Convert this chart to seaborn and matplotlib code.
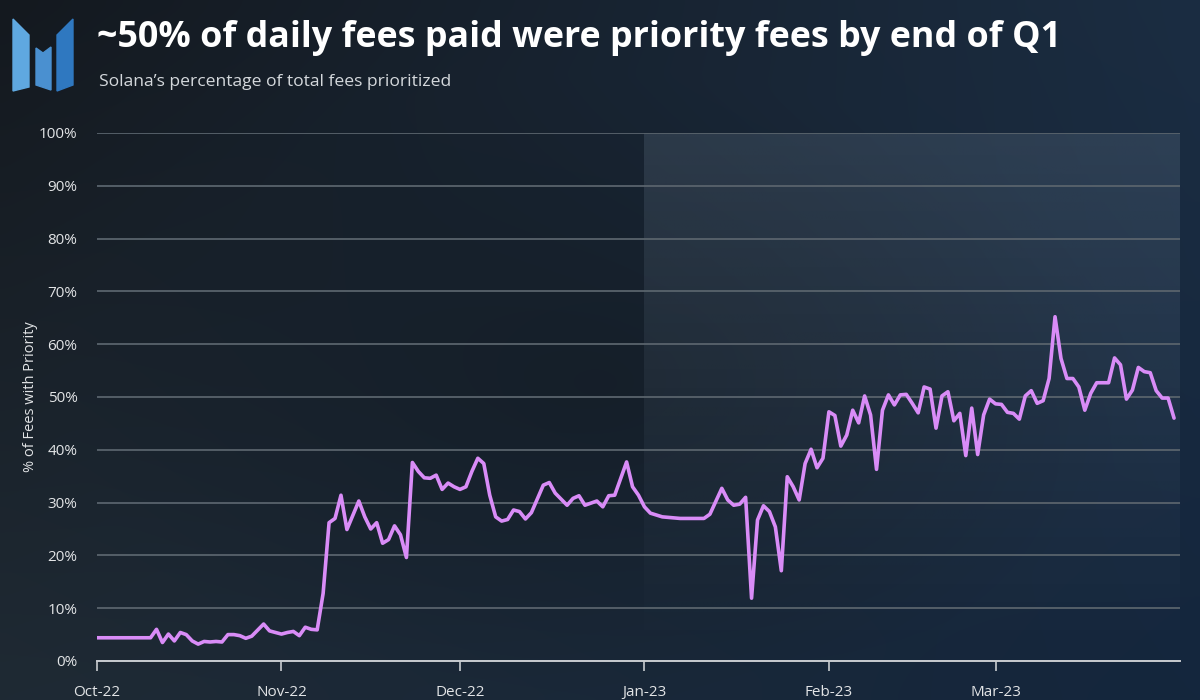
import datetime as dt

import matplotlib.dates as mdates
import matplotlib.pyplot as plt
import numpy as np
import pandas as pd
import seaborn as sns
from matplotlib.patches import Polygon

# daily share of fees paid with priority (days since 2022-10-01)
start_date = "2022-10-01"
day_offset = [
    0, 9, 10, 11, 12, 13, 14, 15, 16, 17, 18, 19, 20, 21, 22, 23, 24, 25, 26, 28, 29,
    31, 32, 33, 34, 35, 36, 37, 38, 39, 40, 41, 42, 44, 45, 46, 47, 48, 49, 50, 51, 52,
    53, 54, 55, 56, 57, 58, 59, 60, 61, 62, 63, 64, 65, 66, 67, 68, 69, 70, 71, 72, 73,
    75, 76, 77, 79, 80, 81, 82, 84, 85, 86, 87, 89, 90, 91, 92, 93, 95, 98, 102, 103,
    105, 106, 107, 108, 109, 110, 111, 112, 113, 114, 115, 116, 117, 118, 119, 120,
    121, 122, 123, 124, 125, 126, 127, 128, 129, 130, 131, 132, 133, 134, 135, 136,
    137, 138, 139, 140, 141, 142, 143, 144, 145, 146, 147, 148, 149, 150, 151, 152,
    153, 154, 155, 156, 157, 158, 159, 160, 161, 162, 163, 164, 165, 166, 167, 168,
    170, 171, 172, 173, 174, 175, 176, 177, 178, 179, 180, 181,
]
pct_priority = [
    4.4, 4.4, 6.0, 3.5, 5.1, 3.8, 5.4, 5.0, 3.8, 3.2, 3.7, 3.6, 3.7, 3.6, 5.0, 5.0, 4.8, 4.3, 4.7, 7.0, 5.7,
    5.1, 5.4, 5.6, 4.8, 6.4, 6.0, 5.9, 12.8, 26.2, 27.0, 31.4, 24.9, 30.3, 27.3, 25.0, 26.2, 22.3, 23.0, 25.6, 23.9, 19.6,
    37.6, 35.9, 34.7, 34.6, 35.2, 32.5, 33.7, 33.0, 32.5, 33.0, 35.9, 38.4, 37.4, 31.4, 27.3, 26.5, 26.8, 28.6, 28.3, 26.9, 28.1,
    33.3, 33.8, 31.8, 29.5, 30.8, 31.3, 29.5, 30.3, 29.2, 31.3, 31.4, 37.7, 33.0, 31.4, 29.2, 28.0, 27.3, 27.0, 27.0, 27.8,
    32.7, 30.5, 29.5, 29.7, 31.0, 11.9, 26.7, 29.4, 28.3, 25.4, 17.1, 34.9, 33.0, 30.5, 37.4, 40.1,
    36.6, 38.4, 47.2, 46.5, 40.7, 42.8, 47.5, 45.1, 50.2, 46.6, 36.3, 47.5, 50.4, 48.5, 50.4, 50.5,
    48.8, 47.0, 51.9, 51.5, 44.1, 50.2, 51.0, 45.5, 46.9, 38.9, 47.9, 39.1, 46.6, 49.6, 48.7, 48.6,
    47.1, 46.9, 45.8, 50.2, 51.2, 48.8, 49.3, 53.5, 65.2, 57.3, 53.5, 53.5, 51.9, 47.5, 50.7, 52.7,
    52.7, 57.4, 56.1, 49.6, 51.3, 55.6, 54.8, 54.6, 51.2, 49.8, 49.8, 46.0,
]
month_ticks = ["2022-10-01", "2022-11-01", "2022-12-01", "2023-01-01", "2023-02-01", "2023-03-01"]
month_labels = ["Oct-22", "Nov-22", "Dec-22", "Jan-23", "Feb-23", "Mar-23"]
y_ticks = list(range(0, 101, 10))
highlight_span = ("2023-01-01", "2023-04-01")

df = pd.DataFrame({
    "date": pd.Timestamp(start_date) + pd.to_timedelta(day_offset, unit="D"),
    "pct": pct_priority,
})

sns.set_theme(style="dark")
plt.rcParams["font.family"] = ["Open Sans", "DejaVu Sans"]

fig = plt.figure(figsize=(12, 7), dpi=100)

# background gradient
bg = fig.add_axes([0, 0, 1, 1], zorder=-10)
h, w = 70, 120
yy, xx = np.mgrid[0:1:h * 1j, 0:1:w * 1j]
tl = np.array([20, 25, 31]) / 255
tr = np.array([27, 45, 66]) / 255
bl = np.array([31, 42, 52]) / 255
br = np.array([20, 38, 61]) / 255
mid = np.array([19, 26, 33]) / 255
grad = (
    ((1 - xx) * (1 - yy))[..., None] * tl
    + (xx * (1 - yy))[..., None] * tr
    + ((1 - xx) * yy)[..., None] * bl
    + (xx * yy)[..., None] * br
)
dist = np.sqrt((xx - 0.5) ** 2 + (yy - 0.55) ** 2)
wgt = np.clip(1 - dist / 0.45, 0, 1)[..., None] * 0.6
grad = grad * (1 - wgt) + mid * wgt
bg.imshow(grad, aspect="auto", extent=[0, 1, 0, 1], interpolation="bicubic")
bg.axis("off")

# logo
logo_blues = ["#5fa8e0", "#4a90d0", "#2f78c0"]
logo_shapes = [
    [(13, 19), (29, 35), (29, 87), (13, 91)],
    [(36, 48), (43, 53), (51, 47), (51, 90), (36, 85)],
    [(73, 19), (57, 35), (57, 91), (73, 85)],
]
for pts, col in zip(logo_shapes, logo_blues):
    fig.patches.append(Polygon([(x / 1200, 1 - y / 700) for x, y in pts],
                               closed=True, color=col, transform=fig.transFigure))

fig.text(97 / 1200, 1 - 38 / 700, "~50% of daily fees paid were priority fees by end of Q1",
         color="white", fontsize=25.8, fontweight="bold", va="center", ha="left")
fig.text(99 / 1200, 1 - 82 / 700, "Solana\u2019s percentage of total fees prioritized",
         color="#d4d8dc", fontsize=12.6, va="center", ha="left")

ax = fig.add_axes([97 / 1200, 1 - 661 / 700, (1180 - 97) / 1200, (661 - 133) / 700])
ax.set_facecolor((0, 0, 0, 0))

# highlighted Q1 region with a soft vertical fade
x0 = mdates.date2num(pd.Timestamp(highlight_span[0]))
x1 = mdates.date2num(pd.Timestamp(highlight_span[1]))
fade = np.zeros((100, 2, 4))
fade[..., :3] = np.array([120, 140, 160]) / 255
fade[..., 3] = np.linspace(0.22, 0.0, 100)[:, None]
ax.imshow(fade, aspect="auto", extent=[x0, x1, 0, 100], origin="upper", zorder=0,
          interpolation="bilinear")

sns.lineplot(data=df, x="date", y="pct", ax=ax, color="#d98cf7", linewidth=2.6, zorder=3)

ax.set_xlim(pd.Timestamp("2022-10-01"), pd.Timestamp("2023-04-01"))
ax.set_ylim(0, 100)
ax.set_yticks(y_ticks)
ax.set_yticklabels([f"{v}%" for v in y_ticks], color="#e2e4e6", fontsize=11)
ax.set_xticks([pd.Timestamp(t) for t in month_ticks])
ax.set_xticklabels(month_labels, color="#e2e4e6", fontsize=11)
ax.tick_params(axis="x", length=7, width=1.2, color="#c8ccd0", pad=10, direction="out", bottom=True)
ax.tick_params(axis="y", length=0, pad=14)
ax.grid(axis="y", color="#59636c", linewidth=1.3)
ax.grid(axis="x", visible=False)
for s in ["top", "right", "left"]:
    ax.spines[s].set_visible(False)
ax.spines["bottom"].set_color("#c8ccd0")
ax.spines["bottom"].set_linewidth(1.4)
ax.set_xlabel("")
ax.set_ylabel("% of Fees with Priority", color="#e2e4e6", fontsize=10.5, labelpad=1)

fig.savefig("out.png", dpi=100)
